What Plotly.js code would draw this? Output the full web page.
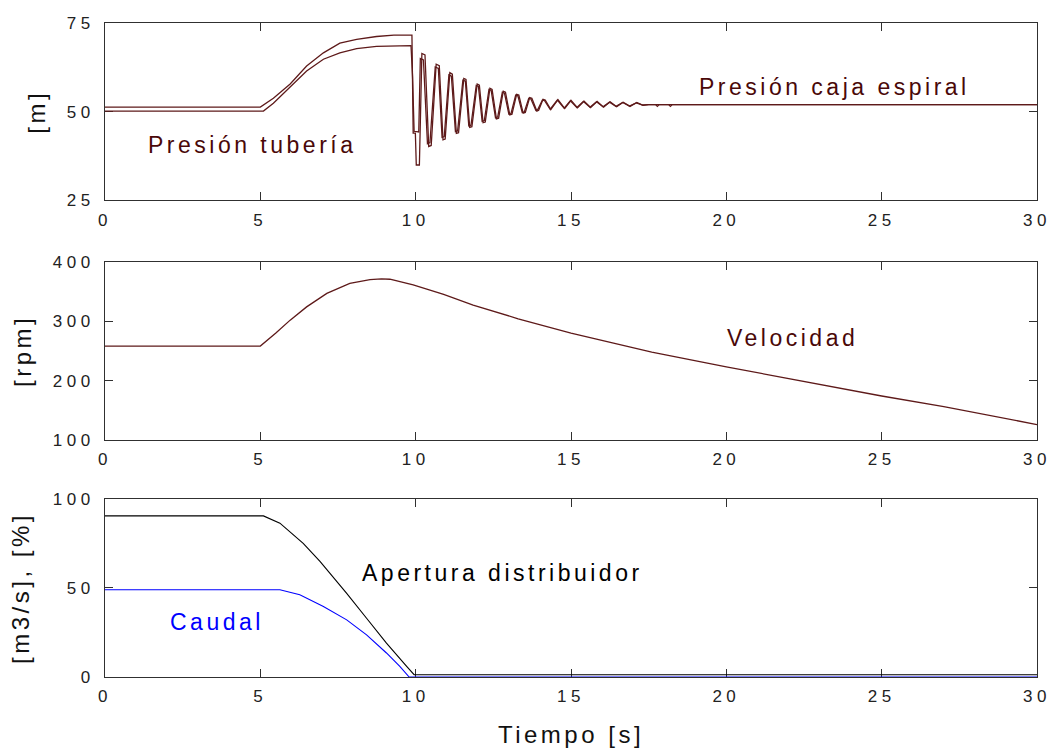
<!DOCTYPE html>
<html>
<head>
<meta charset="utf-8">
<script src="https://cdn.plot.ly/plotly-3.0.1.min.js"></script>
<style>
  html, body { margin: 0; padding: 0; background: #fff; }
  svg text { letter-spacing: 3.5px; }
  g[class*="tick"] text { letter-spacing: 4.5px; }
</style>
</head>
<body>
<div id="chart" style="width:1056px;height:751px;"></div>
<script>
// ---- Data ----
// Presión tubería [m]
const t_tuberia = [0, 5.0, 5.42, 5.96, 6.49, 7.03, 7.56, 8.1, 8.74, 9.3, 9.88,
  9.92, 9.99, 10.02, 10.12, 10.2, 10.3, 10.42, 10.5, 10.66, 10.76, 10.88, 10.95,
  11.1, 11.18, 11.31, 11.38, 11.55, 11.62, 11.74, 11.81, 11.98, 12.05, 12.17, 12.24,
  12.39, 12.46, 12.6, 12.67, 12.82, 12.89, 13.03, 13.1, 13.25, 13.32, 13.46, 13.53,
  13.67, 13.74, 13.9, 13.96, 14.1, 14.17, 14.35, 14.58, 14.8, 15.0, 15.21, 15.42,
  15.63, 15.84, 16.05, 16.26, 16.47, 16.68, 16.9, 17.12, 17.32, 17.5, 17.72, 17.78,
  17.84, 18.14, 18.2, 18.26, 30];
const p_tuberia = [51.3, 51.3, 53.8, 57.8, 62.9, 66.6, 69.3, 70.4, 71.2, 71.6, 71.6,
  44.0, 44.0, 35.0, 35.0, 66.4, 66.0, 40.2, 40.5, 63.4, 63.0, 42.1, 42.3,
  61.0, 60.6, 43.9, 44.1, 59.4, 59.1, 45.6, 45.8, 57.8, 57.5, 46.9, 47.1,
  56.6, 56.3, 48.0, 48.2, 55.8, 55.5, 49.1, 49.3, 54.9, 54.7, 49.6, 49.8,
  54.0, 53.8, 50.2, 50.4, 53.5, 53.3, 50.6, 53.4, 50.9, 53.2, 51.1, 53.0,
  51.2, 52.9, 51.3, 52.8, 51.4, 52.7, 51.5, 52.6, 51.8, 52.0, 52.0, 51.5,
  52.0, 52.0, 51.5, 52.0, 52.0];
// Presión caja espiral [m]
const t_caja = [0, 5.1, 5.42, 5.96, 6.49, 7.03, 7.56, 8.1, 8.74, 9.85,
  9.9, 9.95, 10.1, 10.15, 10.25, 10.38, 10.46, 10.63, 10.73, 10.85, 10.92,
  11.07, 11.15, 11.28, 11.35, 11.52, 11.6, 11.71, 11.78, 11.95, 12.02, 12.14, 12.21,
  12.36, 12.43, 12.57, 12.64, 12.79, 12.86, 13.0, 13.07, 13.22, 13.29, 13.43, 13.5,
  13.64, 13.71, 13.87, 13.93, 14.08, 14.15, 14.33, 14.56, 14.78, 14.98, 15.19, 15.4,
  15.61, 15.82, 16.03, 16.24, 16.45, 16.66, 16.88, 17.1, 17.3, 17.5, 18.2, 30];
const p_caja = [50.2, 50.2, 52.4, 56.9, 61.5, 64.8, 66.6, 67.8, 68.4, 68.6,
  59.9, 44.5, 44.3, 65.0, 64.6, 41.0, 41.3, 62.6, 62.2, 42.8, 43.0,
  60.4, 60.0, 44.4, 44.6, 58.9, 58.6, 46.0, 46.2, 57.4, 57.1, 47.3, 47.5,
  56.3, 56.0, 48.3, 48.5, 55.5, 55.2, 49.3, 49.5, 54.7, 54.5, 49.8, 50.0,
  53.8, 53.6, 50.4, 50.6, 53.3, 53.1, 50.7, 53.3, 51.0, 53.1, 51.2, 52.9,
  51.3, 52.8, 51.4, 52.7, 51.5, 52.6, 51.6, 52.5, 51.9, 52.0, 52.0, 52.0];

// Velocidad [rpm]
const t_vel = [0, 5.0, 5.5, 5.96, 6.49, 7.14, 7.88, 8.53, 8.9, 9.17, 9.92, 10.9,
  11.85, 12.7, 13.3, 15, 17.6, 20, 23, 25, 27, 30];
const vel = [258, 258, 280, 301.7, 324, 346.7, 363.5, 370, 371, 370.5, 361, 345,
  327, 313, 304, 280, 248, 223, 193, 174, 156, 126];

// Apertura distribuidor [%]
const t_ap = [0, 5.1, 5.63, 6.38, 6.92, 7.78, 8.42, 9.06, 9.71, 9.95, 30];
const apertura = [90.5, 90.5, 86.4, 75.1, 64.9, 47, 33, 19, 6, 1.3, 1.3];
// Caudal [m3/s]
const t_q = [0, 5.63, 6.27, 7.03, 7.78, 8.42, 9.06, 9.49, 9.79, 30];
const caudal = [49, 49, 46.2, 39.6, 32.1, 23.7, 13.5, 6, 0, 0];

const xTicks = [0, 5, 10, 15, 20, 25, 30];
const yTicksPres = [25, 50, 75];
const yTicksVel = [100, 200, 300, 400];
const yTicksQ = [0, 50, 100];

// ---- Styling ----
const maroon = '#5e1a1a';
const textMaroon = '#4a0808';
const fontFam = '"Liberation Sans", Arial, Helvetica, sans-serif';
const frame = '#303030';

const traces = [
  {x: t_tuberia, y: p_tuberia, xaxis: 'x', yaxis: 'y', mode: 'lines', name: 'Presión tubería',
   line: {color: maroon, width: 1.3}},
  {x: t_caja, y: p_caja, xaxis: 'x', yaxis: 'y', mode: 'lines', name: 'Presión caja espiral',
   line: {color: maroon, width: 1.3}},
  {x: t_vel, y: vel, xaxis: 'x2', yaxis: 'y2', mode: 'lines', name: 'Velocidad',
   line: {color: maroon, width: 1.3}},
  {x: t_ap, y: apertura, xaxis: 'x3', yaxis: 'y3', mode: 'lines', name: 'Apertura distribuidor',
   line: {color: '#000000', width: 1.1}},
  {x: t_q, y: caudal, xaxis: 'x3', yaxis: 'y3', mode: 'lines', name: 'Caudal',
   line: {color: '#0000ff', width: 1.1}}
];

function xAx(anchor, withTitle) {
  const a = {
    anchor: anchor, range: [0, 30], tickmode: 'array', tickvals: xTicks,
    ticktext: xTicks.map(String),
    ticks: 'inside', ticklen: 8, tickcolor: frame, tickwidth: 1,
    showline: true, linecolor: frame, linewidth: 1, mirror: 'ticks',
    showgrid: false, zeroline: false, layer: 'below traces',
    tickfont: {family: fontFam, size: 17, color: '#222'},
    ticklabelstandoff: 4, fixedrange: true
  };
  if (withTitle) {
    a.title = {text: 'Tiempo [s]', font: {family: fontFam, size: 24, color: '#111'}, standoff: 20};
  }
  return a;
}
function yAx(anchor, domain, range, ticks, title, standoff) {
  return {
    anchor: anchor, domain: domain, range: range, tickmode: 'array', tickvals: ticks,
    ticktext: ticks.map(String),
    ticks: 'inside', ticklen: 8, tickcolor: frame, tickwidth: 1,
    showline: true, linecolor: frame, linewidth: 1, mirror: 'ticks',
    showgrid: false, zeroline: false, layer: 'below traces',
    tickfont: {family: fontFam, size: 17, color: '#222'},
    ticklabelstandoff: 6, fixedrange: true,
    title: {text: title, font: {family: fontFam, size: 24, color: '#111'}, standoff: standoff}
  };
}

const annFont = (c) => ({family: fontFam, size: 23, color: c});
const layout = {
  width: 1056, height: 751,
  margin: {l: 105, r: 19, t: 23, b: 74},
  paper_bgcolor: '#ffffff', plot_bgcolor: '#ffffff',
  showlegend: false,
  xaxis: xAx('y', false),
  yaxis: yAx('x', [0.7286, 1], [25, 75], yTicksPres, '[m]', 14),
  xaxis2: xAx('y2', false),
  yaxis2: yAx('x2', [0.3624, 0.635], [100, 400], yTicksVel, '[rpm]', 14),
  xaxis3: xAx('y3', true),
  yaxis3: yAx('x3', [0, 0.2722], [0, 100], yTicksQ, '[m3/s], [%]', 16),
  annotations: [
    {xref: 'x', yref: 'y', x: 4.72, y: 40.6, text: 'Presión tubería', showarrow: false, font: annFont(textMaroon)},
    {xref: 'x', yref: 'y', x: 23.48, y: 57.0, text: 'Presión caja espiral', showarrow: false, font: annFont(textMaroon)},
    {xref: 'x2', yref: 'y2', x: 22.13, y: 271, text: 'Velocidad', showarrow: false, font: annFont(textMaroon)},
    {xref: 'x3', yref: 'y3', x: 12.8, y: 58.5, text: 'Apertura distribuidor', showarrow: false, font: annFont('#000000')},
    {xref: 'x3', yref: 'y3', x: 3.62, y: 31.0, text: 'Caudal', showarrow: false, font: annFont('#0000ff')}
  ]
};

Plotly.newPlot('chart', traces, layout, {staticPlot: true, displayModeBar: false});
</script>
</body>
</html>
